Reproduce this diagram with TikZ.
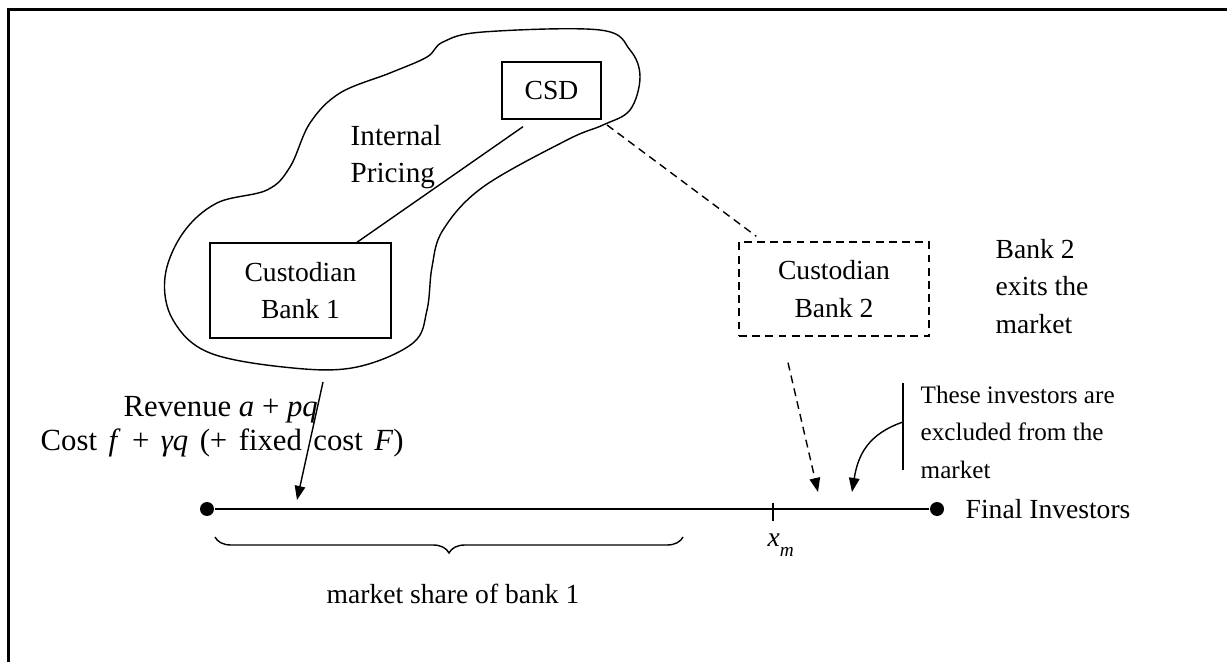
\documentclass[tikz,border=0pt]{standalone}
\usepackage{fontspec}
\setmainfont{Liberation Serif}
\usetikzlibrary{arrows.meta,decorations.pathreplacing}

\begin{document}
\begin{tikzpicture}[x=0.02cm, y=-0.02cm, line width=0.8pt,
		font=\fontsize{15.7}{21.3}\selectfont]
			\tikzstyle{box}  = [rectangle, draw=black, fill=white, align=center, inner sep=0pt]
			\tikzstyle{dot}  = [circle, fill=black, minimum size=0.28cm, inner sep=0pt]
			\tikzstyle{txt}  = [anchor=base west, align=left, inner sep=0pt]
			\tikzstyle{dsh}  = [dash pattern=on 4.5pt off 3pt]
			\tikzstyle{arr}  = [-{Triangle[length=8pt, width=6pt]}]

			\useasboundingbox (0,0) rectangle (1227,662);
			\clip (0,0) rectangle (1227,662);
			\draw[line width=1.2pt] (8.5,700) -- (8.5,9.5) -- (1300,9.5);

			% the integrated group
			\draw plot[smooth cycle, tension=0.6] coordinates {(443,42) (483,32) (600,30) (630,50) (640,77) (630,110)
				(603,125) (567,140) (483,187) (443,230) (432,267) (427,310) (413,343) (357,367) (293,368)
				(210,353) (173,320) (165,277) (183,233) (217,203) (267,190) (290,167) (310,123) (340,93)
				(390,73) (427,57)};

			\node[box, minimum width=1.98cm, minimum height=1.14cm] (csd) at (551.5,90.5) {CSD};
			\node[box, minimum width=3.62cm, minimum height=1.9cm] (bank1) at (300.5,290.5) {Custodian\\Bank 1};
			\node[box, dsh, minimum width=3.8cm, minimum height=1.88cm] (bank2) at (834,289) {Custodian\\Bank 2};

			\node[txt, font=\fontsize{16.6}{21.3}\selectfont] (pricing) at (350,183) {Internal\\Pricing};
			\node[txt] (exits) at (995,333) {Bank 2\\exits the\\market};

			\draw ([xshift=1.13cm]bank1.north) -- ([xshift=-0.57cm, yshift=-0.14cm]csd.south);
			\coordinate (blobcorner) at (607,125);
			\draw[dsh] (blobcorner) -- ([xshift=0.36cm, yshift=0.1cm]bank2.north west);

			% the line of investors
			\node[dot] (first) at (207,509) {};
			\node[dot] (last) at (937,509) {};
			\draw (first) -- (last);
			\coordinate (xm) at (773,509);
			\draw ([yshift=0.12cm]xm) -- ([yshift=-0.24cm]xm);
			\node[txt] (xmlabel) at (767,546) {\textit{x}\raisebox{-6pt}{\fontsize{11}{11}\selectfont\textit{m}}};
			\node[anchor=west, inner sep=0pt] (investors) at (965,509) {Final Investors};

			\coordinate (blobbottom) at (323,382);
			\coordinate (tip1) at (297,500);
			\draw[arr] (blobbottom) -- (tip1);
			\coordinate (tip2) at (818,492);
			\draw[arr, dsh] ([xshift=-0.92cm, yshift=-0.52cm]bank2.south) -- (tip2);

			\node[txt, font=\fontsize{17.5}{21.3}\selectfont] (revenue) at (123,416) {Revenue \textit{a} + \textit{pq}};
			\node[txt, font=\fontsize{17.5}{21.3}\selectfont] (cost) at (40,450)
				{\makebox[7.26cm][s]{Cost \textit{f} + \textit{γq} (+ fixed cost \textit{F})}};

			\draw[decorate, decoration={brace, mirror, amplitude=0.32cm}] (215,537) -- (683,537);
			\node[anchor=base] (share) at (453,603) {market share of bank 1};

			% excluded investors
			\coordinate (bartop) at (903,383);
			\coordinate (barbottom) at (903,470);
			\draw (bartop) -- (barbottom);
			\coordinate (barmid) at (903,422);
			\coordinate (tip3) at (852,492);
			\draw[arr] (barmid) .. controls (868,434) and (858,455) .. (tip3);
			\node[txt, font=\fontsize{14.3}{21.3}\selectfont] (excluded) at (920,478)
				{These investors are\\excluded from the\\market};
		\end{tikzpicture}
\end{document}
